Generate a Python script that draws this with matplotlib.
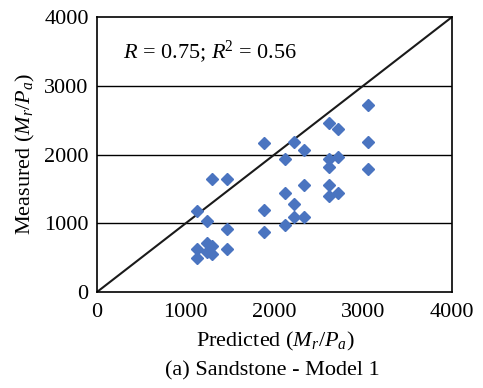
import matplotlib
matplotlib.use("Agg")
import matplotlib.pyplot as plt

plt.rcParams['font.family'] = ['Liberation Serif', 'DejaVu Serif']
plt.rcParams['mathtext.fontset'] = 'custom'
plt.rcParams['mathtext.rm'] = 'Liberation Serif'
plt.rcParams['mathtext.it'] = 'Liberation Serif:italic'

predicted = [1123, 1123, 1123, 1239, 1239, 1239, 1292, 1292, 1292, 1461, 1461, 1461,
             1880, 1880, 1880, 2115, 2115, 2115, 2220, 2220, 2220, 2336, 2336, 2336,
             2617, 2617, 2617, 2617, 2617, 2716, 2716, 2716, 3057, 3057, 3057]
measured = [1178, 625, 490, 1037, 708, 577, 1644, 674, 553, 1644, 912, 625,
            2163, 1193, 872, 1939, 1436, 975, 2187, 1280, 1095, 2065, 1556, 1086,
            2453, 1935, 1814, 1561, 1401, 2371, 1968, 1436, 2720, 2182, 1794]
ticks = [0, 1000, 2000, 3000, 4000]

W, H = 483, 388
fig = plt.figure(figsize=(W / 100, H / 100), dpi=100)
ax = fig.add_axes([97 / W, 1 - 292 / H, 355 / W, 275 / H])
ax.set_xlim(0, 4000)
ax.set_ylim(0, 4000)
for y in ticks[1:4]:
    ax.axhline(y, color='black', lw=1.0, zorder=1)
ax.plot([0, 4000], [0, 4000], color='#1a1a1a', lw=1.5, zorder=2)
ax.plot(predicted, measured, linestyle='none', marker='D', ms=6.5,
        color='#4a74c0', mec='#4a74c0', zorder=3)
ax.set_xticks(ticks)
ax.set_yticks(ticks)
ax.tick_params(length=0, labelsize=16)
ax.tick_params(axis='x', pad=8)
ax.tick_params(axis='y', pad=6)
for s in ax.spines.values():
    s.set_color('black')
    s.set_linewidth(1.2)
ax.text(290, 3500, r'$R$ = 0.75; $R$$^{2}$ = 0.56', fontsize=16, va='center')
fig.text(275 / W, 1 - 341 / H, r'Predicted ($M_r$/$P_a$)', fontsize=16, ha='center', va='center')
fig.text(25 / W, 1 - 154 / H, r'Measured ($M_r$/$P_a$)', fontsize=16, ha='center', va='center', rotation=90)
fig.text(272 / W, 1 - 371 / H, '(a) Sandstone - Model 1', fontsize=16, ha='center', va='center')
fig.savefig('out.png', dpi=100)
